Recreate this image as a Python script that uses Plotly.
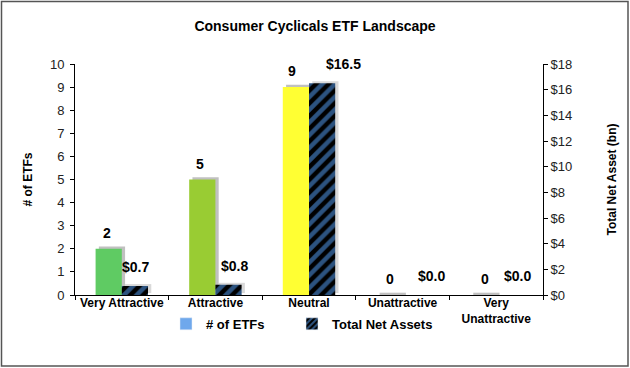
import plotly.graph_objects as go

categories = ["Very Attractive", "Attractive", "Neutral", "Unattractive", "Very<br>Unattractive"]
num_etfs = [2, 5, 9, 0, 0]
net_assets = [0.7, 0.8, 16.5, 0.0, 0.0]
etf_colors = ["#5FCB63", "#99CC33", "#FFFF33", "#FF3333", "#CC0000"]

# label nudges (pixels) to mimic the original label placement
etf_label_dx = [-2, -2, -4, 0, 2]
asset_label_dx = [1, 6, 21, 16, 8]

W = 0.28
FONT = "Arial, Liberation Sans, sans-serif"
BAR_PX = 13.1  # half-bar offset in px (W/2 of a 93.6px category)

fig = go.Figure()

# drop shadows
fig.add_trace(go.Bar(x=categories, y=[v + 0.1 for v in num_etfs], yaxis="y", offset=-W + 0.035, width=W,
                     marker=dict(color="rgba(165,165,165,0.7)", line=dict(width=0)),
                     showlegend=False, hoverinfo="skip"))
fig.add_trace(go.Bar(x=categories, y=net_assets, yaxis="y2", offset=0.035, width=W,
                     marker=dict(color="rgba(185,185,185,0.55)", line=dict(width=0)),
                     base=0.15, showlegend=False, hoverinfo="skip"))

fig.add_trace(go.Bar(
    x=categories, y=num_etfs, yaxis="y", offset=-W, width=W,
    marker=dict(color=etf_colors, line=dict(width=0)),
    name="# of ETFs", showlegend=False,
))
fig.add_trace(go.Bar(
    x=categories, y=net_assets, yaxis="y2", offset=0, width=W,
    marker=dict(color="#000000", line=dict(width=0),
                pattern=dict(shape="/", fgcolor="#58A6FF", bgcolor="#000000", size=9, solidity=0.5)),
    name="Total Net Assets", showlegend=False,
))
# legend entries
fig.add_trace(go.Bar(x=[None], y=[None], name="<b># of ETFs</b>", marker=dict(color="#6FA8EC"),
                     legend="legend"))
fig.add_trace(go.Bar(x=[None], y=[None], name="<b>Total Net Assets</b>", legend="legend2",
                     marker=dict(color="#000000",
                                 pattern=dict(shape="/", fgcolor="#58A6FF", bgcolor="#000000", size=5, solidity=0.5))))

annotations = []
for c, v, dx in zip(categories, num_etfs, etf_label_dx):
    annotations.append(dict(x=c, y=v, xref="x", yref="y", text="<b>%d</b>" % v, showarrow=False,
                            xshift=-BAR_PX + dx, yshift=16, yanchor="middle",
                            font=dict(family=FONT, size=14, color="#000000")))
for c, v, dx in zip(categories, net_assets, asset_label_dx):
    annotations.append(dict(x=c, y=v, xref="x", yref="y2", text="<b>$%.1f</b>" % v, showarrow=False,
                            xshift=BAR_PX + dx, yshift=19, yanchor="middle",
                            font=dict(family=FONT, size=14, color="#000000")))

leg_common = dict(orientation="h", xanchor="left", y=-0.06, yanchor="top",
                  font=dict(size=13, family=FONT), itemwidth=30, bgcolor="rgba(0,0,0,0)")

fig.update_layout(
    width=630, height=368,
    margin=dict(l=75, r=87, t=64, b=73),
    paper_bgcolor="white", plot_bgcolor="white",
    font=dict(family=FONT, size=12, color="#000000"),
    title=dict(text="<b>Consumer Cyclicals ETF Landscape</b>", x=0.5, xanchor="center",
               y=0.93, yanchor="middle", font=dict(size=14, family=FONT)),
    barmode="overlay",
    showlegend=True,
    legend=dict(x=(166 - 75) / 468, **leg_common),
    legend2=dict(x=(292 - 75) / 468, **leg_common),
    annotations=annotations,
    xaxis=dict(showline=True, linecolor="#000000", linewidth=1, ticks="outside",
               ticklen=4, tickcolor="#000000", showgrid=False, ticklabelstandoff=-3,
               tickson="boundaries", tickfont=dict(size=12, family=FONT),
               tickvals=categories, ticktext=["<b>%s</b>" % c for c in categories]),
    yaxis=dict(range=[0, 10], dtick=1, showline=True, linecolor="#000000", linewidth=1,
               ticks="outside", ticklen=4, tickcolor="#000000", showgrid=False, zeroline=False,
               ticklabelstandoff=3,
               tickfont=dict(size=13, family=FONT, color="#222222"),
               title=dict(text="<b># of ETFs</b>", font=dict(size=12, family=FONT), standoff=14)),
    yaxis2=dict(range=[0, 18], dtick=2, overlaying="y", side="right", showline=True,
                linecolor="#000000", linewidth=1, ticks="outside", ticklen=4, tickcolor="#000000",
                showgrid=False, zeroline=False, tickprefix="$",
                tickfont=dict(size=13, family=FONT, color="#222222"),
                title=dict(text="<b>Total Net Asset (bn)</b>", font=dict(size=12, family=FONT), standoff=36)),
    shapes=[dict(type="rect", xref="paper", yref="paper",
                 x0=(-75 + 1.5) / 468, x1=1 + (87 - 2) / 468,
                 y0=(-73 + 2) / 231, y1=1 + (64 - 1.5) / 231,
                 line=dict(color="#555555", width=1.5), fillcolor="rgba(0,0,0,0)", layer="below")],
)

fig.write_html("out.html", config={"displayModeBar": False},
               post_script="document.body.style.margin='0';")
